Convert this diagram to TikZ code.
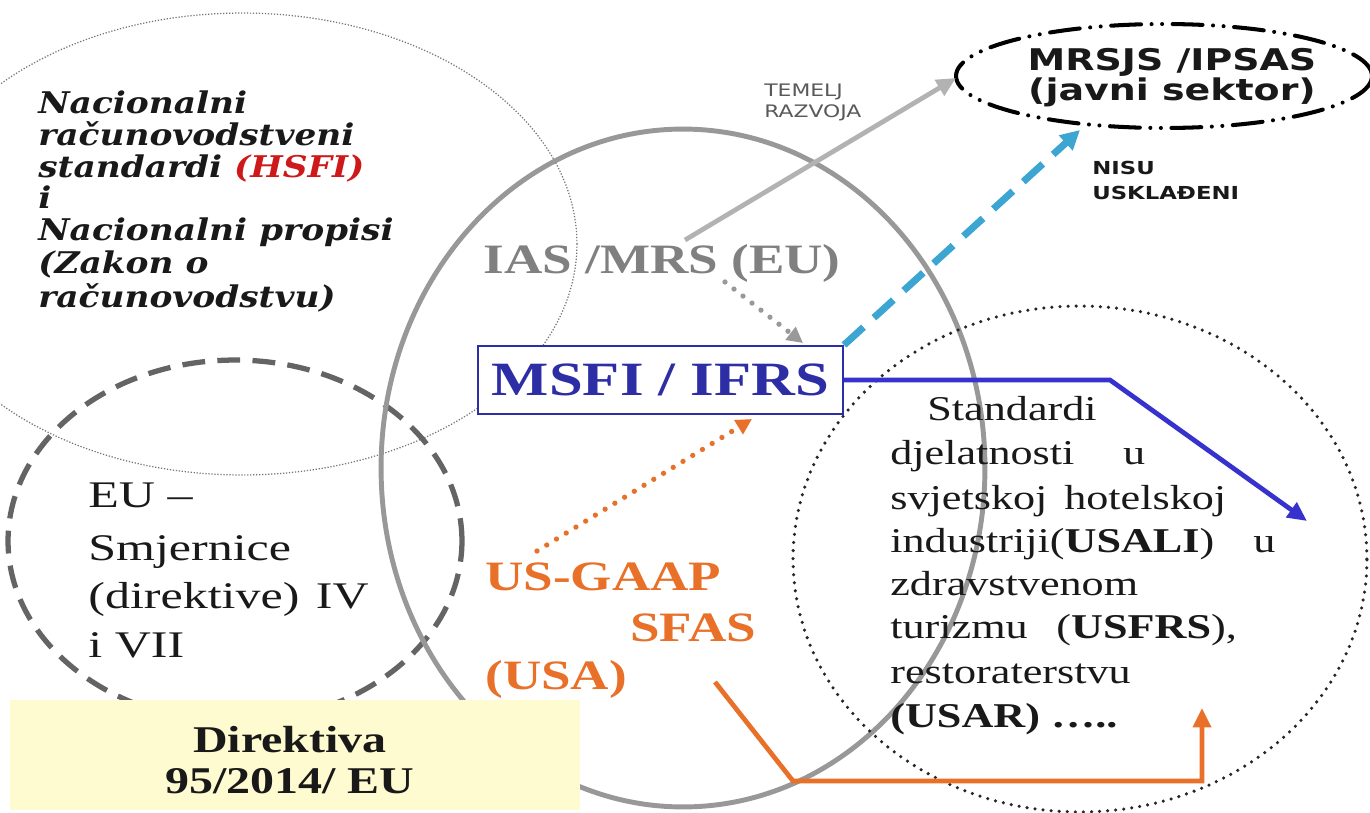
\documentclass[tikz,border=0pt]{standalone}
\usepackage{fontspec}
\usepackage{graphicx}
\setmainfont{Liberation Serif}
\newfontfamily\natfont{DejaVu Serif}
\newfontfamily\versans{DejaVu Sans}
\usetikzlibrary{arrows.meta}

\definecolor{ringgray}{RGB}{152,152,152}
\definecolor{dashgray}{RGB}{100,100,100}
\definecolor{thingray}{RGB}{115,115,115}
\definecolor{iasgray}{RGB}{128,128,128}
\definecolor{msfiblue}{RGB}{45,45,165}
\definecolor{arrowblue}{RGB}{55,50,205}
\definecolor{tealdash}{RGB}{60,165,210}
\definecolor{usorange}{RGB}{232,112,40}
\definecolor{noteyellow}{RGB}{255,251,208}
\definecolor{hsfired}{RGB}{205,25,25}
\definecolor{textdark}{RGB}{25,25,25}

% horizontal stretch of the slide lettering
\newcommand{\hstretch}[2][1.27]{\scalebox{#1}[1]{#2}}

\begin{document}
\begin{tikzpicture}[x=0.02cm, y=-0.02cm,
  lbl/.style={inner sep=0pt, anchor=base west, text=textdark},
  ctr/.style={inner sep=0pt, anchor=base, text=textdark},
  nat/.style={lbl, font=\natfont\fontsize{17pt}{18pt}\selectfont\bfseries\itshape},
  eutxt/.style={lbl, font=\fontsize{21.4pt}{24pt}\selectfont},
  stdtxt/.style={lbl, font=\fontsize{19.8pt}{22pt}\selectfont},
  dirtxt/.style={ctr, font=\fontsize{21.5pt}{24pt}\selectfont\bfseries},
  ustxt/.style={lbl, text=usorange, font=\fontsize{23.8pt}{26pt}\selectfont\bfseries},
  pubtxt/.style={ctr, font=\versans\fontsize{17pt}{19pt}\selectfont\bfseries},
  smalltxt/.style={lbl, font=\versans\fontsize{10.2pt}{12pt}\selectfont\bfseries},
  graytxt/.style={lbl, text=black!65, font=\versans\fontsize{9.8pt}{12pt}\selectfont},
  solidarrow/.style={line width=2.7pt, -{Triangle[length=11pt,width=10pt]}},
  dotarrow/.style={line width=3pt, line cap=round, dash pattern=on 0pt off 6.5pt,
                   -{Triangle[length=9pt,width=9pt]}},
]
\path[use as bounding box] (0,0) rectangle (1370,812);
\fill[white] (0,0) rectangle (1370,812);
\begin{scope}
\clip (0,0) rectangle (1370,812);

% national standards (thin dotted ring)
\draw[thingray, line width=0.7pt, densely dotted] (242,244) ellipse [x radius=6.70cm, y radius=4.62cm];
% EU directives (dashed ring)
\draw[dashgray, line width=3pt, dash pattern=on 13pt off 7pt] (235,541) ellipse [x radius=4.54cm, y radius=3.62cm];
% international standards (large grey ring)
\draw[ringgray, line width=2.8pt] (683,468) ellipse [x radius=6.04cm, y radius=6.78cm];
% industry standards (black dotted ring)
\draw[black!85, line width=2pt, line cap=round, dash pattern=on 0pt off 4.6pt] (1080,559) ellipse [x radius=5.74cm, y radius=5.06cm];
% public sector (dash-dot ring)
\draw[black, line width=2.3pt, line cap=round,
      dash pattern=on 17pt off 6pt on 0pt off 6pt on 0pt off 6pt] (1164,76) ellipse [x radius=4.16cm, y radius=1.04cm];

% yellow note
\fill[noteyellow] (10,700) rectangle (580,810);
\node[dirtxt] (dir1) at (290,752) {\hstretch{Direktiva}};
\node[dirtxt] (dir2) at (290,793) {\hstretch{95/2014/ EU}};

% national text
\node[nat] (nat1) at (38,113) {\hstretch[1.15]{Nacionalni}};
\node[nat] (nat2) at (38,145) {\hstretch[1.15]{računovodstveni}};
\node[nat] (nat3) at (38,177) {\hstretch[1.15]{standardi {\color{hsfired}(HSFI)}}};
\node[nat] (nat4) at (38,208) {\hstretch[1.15]{i}};
\node[nat] (nat5) at (38,240) {\hstretch[1.15]{Nacionalni propisi}};
\node[nat] (nat6) at (38,273) {\hstretch[1.15]{(Zakon o}};
\node[nat] (nat7) at (38,307) {\hstretch[1.15]{računovodstvu)}};

% EU text
\node[eutxt] (eu1) at (88,507) {\hstretch[1.33]{EU –}};
\node[eutxt] (eu2) at (88,560) {\hstretch[1.33]{Smjernice}};
\node[eutxt] (eu3) at (88,608) {\hstretch[1.33]{(direktive)\hspace{0.33em}IV}};
\node[eutxt] (eu4) at (88,657) {\hstretch[1.33]{i VII}};

% IAS and MSFI
\node[ctr, text=iasgray, font=\fontsize{23.8pt}{26pt}\selectfont\bfseries] (ias) at (662,273) {\hstretch{IAS /MRS (EU)}};
\node[draw=msfiblue, line width=1.2pt, fill=white, minimum width=7.30cm, minimum height=1.36cm,
      inner sep=0pt, text=msfiblue, font=\fontsize{27.2pt}{30pt}\selectfont\bfseries] (msfi) at (660.5,380) {\hstretch{MSFI / IFRS}};

% US text
\node[ustxt] (us1) at (485,590) {\hstretch{US-GAAP}};
\node[ustxt] (us2) at (630,641) {\hstretch{SFAS}};
\node[ustxt] (us3) at (485,689) {\hstretch{(USA)}};

% industry standards text
\node[stdtxt] (st1) at (927,420) {\hstretch{Standardi}};
\node[stdtxt] (st2) at (890,464) {\hstretch{djelatnosti\hspace{1.1em}u}};
\node[stdtxt] (st3) at (890,509) {\hstretch{svjetskoj\hspace{0.38em}hotelskoj}};
\node[stdtxt] (st4) at (890,552) {\hstretch{industriji(\textbf{USALI})\hspace{0.88em}u}};
\node[stdtxt] (st5) at (890,595) {\hstretch{zdravstvenom}};
\node[stdtxt] (st6) at (890,638) {\hstretch{turizmu\hspace{0.65em}(\textbf{USFRS}),}};
\node[stdtxt] (st7) at (890,683) {\hstretch{restoraterstvu}};
\node[stdtxt] (st8) at (890,727) {\hstretch{\textbf{(USAR) …..}}};

% public sector text
\node[pubtxt] (pub1) at (1172,70) {\hstretch{MRSJS /IPSAS}};
\node[pubtxt] (pub2) at (1172,100) {\hstretch{(javni sektor)}};
\node[smalltxt] (nisu1) at (1092,174) {\hstretch{NISU}};
\node[smalltxt] (nisu2) at (1092,199) {\hstretch{USKLAĐENI}};
\node[graytxt] (tem1) at (764,96) {\hstretch{TEMELJ}};
\node[graytxt] (tem2) at (764,117) {\hstretch{RAZVOJA}};

% connector end points
\coordinate (iasTop) at (685,240);
\coordinate (pubWest) at (956,78);
\coordinate (pubSouth) at (1080,130);
\coordinate (iasFoot) at (725,282);
\coordinate (msfiTop) at (803,343);
\coordinate (usTop) at (537,551);
\coordinate (msfiFoot) at (752,419);
\coordinate (blueBend) at (1110,380);
\coordinate (blueEnd) at (1307,521);
\coordinate (usTail) at (715,682);
\coordinate (orBend1) at (793,781);
\coordinate (orBend2) at (1202,781);
\coordinate (orEnd) at (1202,708);

% connectors
\draw[solidarrow, black!30] (iasTop) -- (pubWest);
\draw[tealdash, line width=4pt, dash pattern=on 15pt off 8pt, -{Triangle[length=11pt,width=11pt]}] (msfi.north east) -- (pubSouth);
\draw[dotarrow, black!40] (iasFoot) -- (msfiTop);
\draw[dotarrow, usorange] (usTop) -- (msfiFoot);
\draw[solidarrow, arrowblue, line join=miter] (msfi.east) -- (blueBend) -- (blueEnd);
\draw[solidarrow, usorange, line join=miter] (usTail) -- (orBend1) -- (orBend2) -- (orEnd);
\end{scope}
\end{tikzpicture}
\end{document}
